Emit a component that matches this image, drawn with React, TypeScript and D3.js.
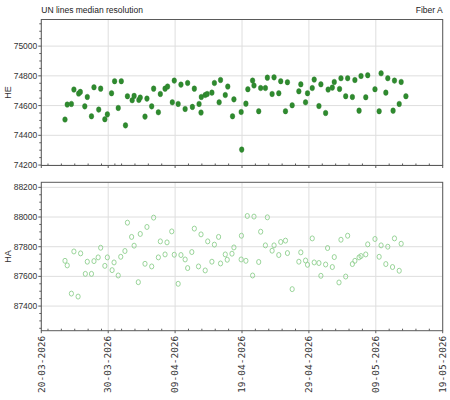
import React from "react";
import * as d3 from "d3";

const title = "UN lines median resolution";
const subtitle = "Fiber A";
const xTickLabels = ["20-03-2026", "30-03-2026", "09-04-2026", "19-04-2026", "29-04-2026", "09-05-2026", "19-05-2026"];
const heTicks = [74200, 74400, 74600, 74800, 75000];
const haTicks = [87400, 87600, 87800, 88000, 88200];

const heTimes = [
  "03-23 13:00", "03-23 21:00", "03-24 12:00", "03-24 21:00", "03-25 14:00", "03-25 20:00",
  "03-26 12:00", "03-26 21:00", "03-27 12:00", "03-27 21:00", "03-28 14:00", "03-28 21:00",
  "03-29 12:00", "03-29 21:00", "03-30 12:00", "03-30 23:00", "03-31 12:00", "03-31 23:00",
  "04-01 14:00", "04-01 21:00", "04-02 14:00", "04-02 21:00", "04-03 14:00", "04-03 19:00",
  "04-04 12:00", "04-04 19:00", "04-05 12:00", "04-05 19:00", "04-06 12:00", "04-06 19:00",
  "04-07 12:00", "04-07 21:00", "04-08 14:00", "04-08 21:00", "04-09 11:00", "04-09 21:00",
  "04-10 12:00", "04-10 21:00", "04-11 14:00", "04-11 21:00", "04-12 14:00", "04-12 21:00",
  "04-12 22:00", "04-13 12:00", "04-13 19:00", "04-14 12:00", "04-14 21:00", "04-15 14:00",
  "04-15 19:00", "04-16 12:00", "04-16 21:00", "04-17 14:00", "04-17 19:00", "04-18 21:00",
  "04-18 23:00", "04-19 14:00", "04-19 21:00", "04-20 14:00", "04-20 19:00", "04-21 12:00",
  "04-21 19:00", "04-22 12:00", "04-22 19:00", "04-23 12:00", "04-23 19:00", "04-24 12:00",
  "04-24 19:00", "04-25 12:00", "04-25 19:00", "04-26 12:00", "04-27 12:00", "04-27 19:00",
  "04-28 12:00", "04-28 19:00", "04-29 12:00", "04-29 19:00", "04-30 12:00", "04-30 19:00",
  "05-01 12:00", "05-01 21:00", "05-02 12:00", "05-02 19:00", "05-03 14:00", "05-03 19:00",
  "05-04 12:00", "05-04 19:00", "05-05 12:00", "05-05 21:00", "05-06 12:00", "05-06 19:00",
  "05-07 12:00", "05-07 19:00", "05-08 21:00", "05-09 12:00", "05-09 19:00", "05-10 12:00",
  "05-10 19:00", "05-11 14:00", "05-11 19:00", "05-12 12:00", "05-12 19:00", "05-13 12:00",
];
const heValues = [
  74506, 74607, 74611, 74708, 74681, 74692,
  74595, 74658, 74528, 74723, 74573, 74714,
  74508, 74541, 74683, 74764, 74584, 74764,
  74467, 74663, 74636, 74665, 74638, 74654,
  74526, 74647, 74595, 74714, 74555, 74678,
  74714, 74728, 74622, 74768, 74611, 74741,
  74577, 74752, 74591, 74714, 74611, 74553,
  74658, 74671, 74678, 74687, 74752, 74622,
  74772, 74671, 74728, 74528, 74642, 74557,
  74304, 74613, 74710, 74768, 74735, 74562,
  74718, 74718, 74788, 74678, 74790, 74683,
  74764, 74562, 74757, 74602, 74696, 74743,
  74622, 74683, 74718, 74775, 74597, 74743,
  74550, 74708, 74721, 74759, 74712, 74784,
  74663, 74784, 74658, 74772, 74566, 74799,
  74656, 74804, 74710, 74562, 74817, 74687,
  74784, 74566, 74768, 74611, 74759, 74663,
];

const haTimes = [
  "03-23 13:00", "03-23 21:00", "03-24 12:00", "03-24 21:00", "03-25 12:00", "03-25 21:00",
  "03-26 14:00", "03-26 21:00", "03-27 12:00", "03-27 21:00", "03-28 12:00", "03-28 21:00",
  "03-29 12:00", "03-29 21:00", "03-30 14:00", "03-30 21:00", "03-31 12:00", "03-31 21:00",
  "04-01 12:00", "04-01 21:00", "04-02 12:00", "04-02 21:00", "04-03 12:00", "04-03 19:00",
  "04-04 12:00", "04-04 19:00", "04-05 12:00", "04-05 19:00", "04-06 12:00", "04-06 19:00",
  "04-07 12:00", "04-07 19:00", "04-08 12:00", "04-08 21:00", "04-09 11:00", "04-09 21:00",
  "04-10 12:00", "04-10 21:00", "04-11 12:00", "04-11 21:00", "04-12 12:00", "04-12 21:00",
  "04-13 12:00", "04-13 21:00", "04-14 12:00", "04-14 21:00", "04-15 12:00", "04-15 19:00",
  "04-16 12:00", "04-16 19:00", "04-17 12:00", "04-17 19:00", "04-18 21:00", "04-18 22:00",
  "04-19 14:00", "04-19 19:00", "04-20 14:00", "04-20 19:00", "04-21 12:00", "04-21 19:00",
  "04-22 12:00", "04-22 19:00", "04-23 12:00", "04-23 19:00", "04-24 12:00", "04-24 19:00",
  "04-25 12:00", "04-25 19:00", "04-26 12:00", "04-27 12:00", "04-27 19:00", "04-28 12:00",
  "04-28 19:00", "04-29 12:00", "04-29 19:00", "04-30 12:00", "04-30 19:00", "05-01 12:00",
  "05-01 19:00", "05-02 12:00", "05-02 19:00", "05-03 12:00", "05-03 19:00", "05-04 12:00",
  "05-04 19:00", "05-05 12:00", "05-05 21:00", "05-06 12:00", "05-06 19:00", "05-07 12:00",
  "05-07 19:00", "05-08 21:00", "05-09 12:00", "05-09 19:00", "05-10 12:00", "05-10 19:00",
  "05-11 12:00", "05-11 19:00", "05-12 12:00", "05-12 19:00",
];
const haValues = [
  87705, 87674, 87484, 87768, 87464, 87755,
  87617, 87699, 87617, 87703, 87728, 87793,
  87671, 87728, 87642, 87694, 87606, 87732,
  87771, 87962, 87866, 87807, 87561, 87886,
  87685, 87933, 87667, 87996, 87728, 87836,
  87748, 87829, 87903, 87746, 87550, 87744,
  87714, 87656, 87764, 87922, 87667, 87883,
  87640, 87836, 87699, 87814, 87866, 87687,
  87748, 87712, 87753, 87795, 87714, 87874,
  87705, 88007, 87606, 88003, 87697, 87901,
  87809, 87998, 87773, 87809, 87744, 87832,
  87841, 87757, 87514, 87699, 87762, 87707,
  87678, 87856, 87694, 87690, 87604, 87680,
  87791, 87663, 87730, 87559, 87847, 87599,
  87874, 87683, 87705, 87728, 87737, 87748,
  87816, 87852, 87732, 87809, 87683, 87800,
  87663, 87856, 87638, 87820,
];

const parseT = (s: string) => {
  const [md, hm] = s.split(" ");
  const [m, d] = md.split("-").map(Number);
  const [h, mi] = hm.split(":").map(Number);
  return new Date(2026, m - 1, d, h, mi);
};
const parseTick = d3.timeParse("%d-%m-%Y");

const X0 = 41.3, X1 = 442.7;
const x = d3.scaleTime().domain([new Date(2026, 2, 20), new Date(2026, 4, 19)]).range([X0, X1]);
const AXIS = "#5a5a5a";
const GRID = "#dedede";
const SANS = "'Liberation Sans', Arial, sans-serif";

type PanelProps = {
  top: number; bottom: number; domain: [number, number]; ticks: number[];
  label: string; times: string[]; values: number[]; filled: boolean; showX: boolean;
};

function Panel({ top, bottom, domain, ticks, label, times, values, filled, showX }: PanelProps) {
  const y = d3.scaleLinear().domain(domain).range([bottom, top]);
  const minorY = d3.range(Math.ceil(domain[0] / 50) * 50, domain[1], 50).filter((v) => v % 200 !== 0);
  const majorX = xTickLabels.map((s) => parseTick(s) as Date);
  const minorX = d3.timeDay.every(2)!.range(x.domain()[0], x.domain()[1]).filter(
    (d) => !majorX.some((m) => Math.abs(+m - +d) < 3600e3)
  );
  return (
    <g>
      {majorX.map((d, i) => (
        <line key={"vg" + i} x1={x(d)} x2={x(d)} y1={top} y2={bottom} stroke={GRID} strokeWidth={1} />
      ))}
      {ticks.map((t) => (
        <line key={"hg" + t} x1={X0} x2={X1} y1={y(t)} y2={y(t)} stroke={GRID} strokeWidth={1} />
      ))}
      {times.map((t, i) => {
        const cx = x(parseT(t));
        const cy = y(values[i]);
        return filled ? (
          <ellipse key={i} cx={cx} cy={cy} rx={2.3} ry={2.8} fill="#2e8b2e" stroke="#2a7a2a" strokeWidth={0.4} />
        ) : (
          <ellipse key={i} cx={cx} cy={cy} rx={2.1} ry={2.5} fill="none" stroke="#8fcf8f" strokeWidth={0.9} />
        );
      })}
      <rect x={X0} y={top} width={X1 - X0} height={bottom - top} fill="none" stroke={AXIS} strokeWidth={1} />
      {ticks.map((t) => (
        <g key={"yt" + t}>
          <line x1={X0 - 3} x2={X0} y1={y(t)} y2={y(t)} stroke={AXIS} />
          <text x={X0 - 4} y={y(t)} dy="0.35em" textAnchor="end" fontSize={8.5} fontFamily={SANS} fill="#333">
            {t}
          </text>
        </g>
      ))}
      {minorY.map((t) => (
        <line key={"ym" + t} x1={X0 - 2} x2={X0} y1={y(t)} y2={y(t)} stroke={AXIS} />
      ))}
      {majorX.map((d, i) => (
        <line key={"xt" + i} x1={x(d)} x2={x(d)} y1={bottom} y2={bottom + 2.5} stroke={AXIS} />
      ))}
      {minorX.map((d, i) => (
        <line key={"xm" + i} x1={x(d)} x2={x(d)} y1={bottom - 2} y2={bottom} stroke={AXIS} />
      ))}
      {showX &&
        majorX.map((d, i) => (
          <text
            key={"xl" + i}
            transform={`translate(${x(d) + 3.2},${bottom + 5}) rotate(-90)`}
            textAnchor="end"
            fontSize={9.5}
            fontFamily="'DejaVu Sans Mono', monospace"
            fill="#333"
          >
            {xTickLabels[i]}
          </text>
        ))}
      <text
        transform={`translate(11,${(top + bottom) / 2}) rotate(-90)`}
        textAnchor="middle"
        fontSize={9}
        fontFamily={SANS}
        fill="#333"
      >
        {label}
      </text>
    </g>
  );
}

export default function App() {
  return (
    <svg width={450} height={400} style={{ position: "absolute", left: 0, top: 0, background: "#fff" }}>
      <rect width={450} height={400} fill="#fff" />
      <text x={X0} y={13} fontSize={8.5} fontFamily={SANS} fill="#222">{title}</text>
      <text x={X1} y={13} textAnchor="end" fontSize={8.5} fontFamily={SANS} fill="#222">{subtitle}</text>
      <Panel top={19.5} bottom={165.5} domain={[74197, 75179]} ticks={heTicks} label="HE"
        times={heTimes} values={heValues} filled={true} showX={false} />
      <Panel top={182.3} bottom={330.7} domain={[87234, 88234]} ticks={haTicks} label="HA"
        times={haTimes} values={haValues} filled={false} showX={true} />
    </svg>
  );
}
